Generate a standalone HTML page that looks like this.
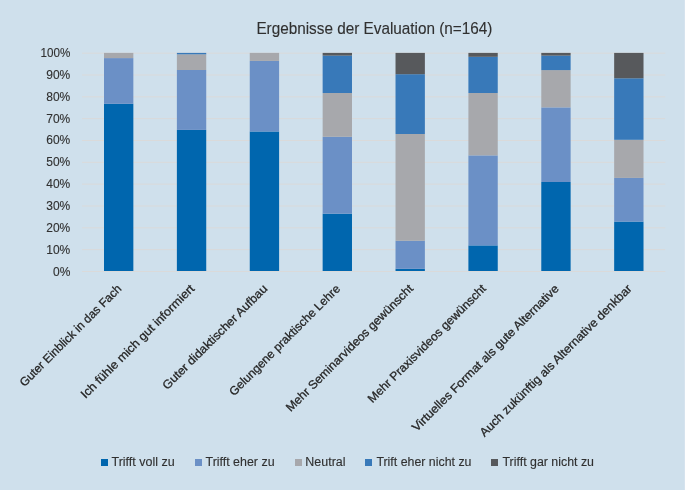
<!DOCTYPE html>
<html><head><meta charset="utf-8"><title>Ergebnisse der Evaluation</title>
<style>
html,body{margin:0;padding:0;}
body{width:685px;height:490px;overflow:hidden;background:#CFE0EC;font-family:"Liberation Sans",sans-serif;}
svg{display:block;font-family:"Liberation Sans",sans-serif;will-change:transform;}
text{stroke:#303030;stroke-width:0.12px;}
.xl{fill:#262626;stroke:#262626;stroke-width:0.28px;}
</style></head><body>
<svg width="685" height="490" viewBox="0 0 685 490">
<rect x="0" y="0" width="685" height="490" fill="#CFE0EC"/>
<rect x="684" y="0" width="1" height="490" fill="#D6E3EE"/>
<rect x="82" y="271.00" width="583.3" height="1" fill="#DADADA"/>
<rect x="82" y="249.16" width="583.3" height="1" fill="#DADADA"/>
<rect x="82" y="227.33" width="583.3" height="1" fill="#DADADA"/>
<rect x="82" y="205.50" width="583.3" height="1" fill="#DADADA"/>
<rect x="82" y="183.66" width="583.3" height="1" fill="#DADADA"/>
<rect x="82" y="161.82" width="583.3" height="1" fill="#DADADA"/>
<rect x="82" y="139.99" width="583.3" height="1" fill="#DADADA"/>
<rect x="82" y="118.16" width="583.3" height="1" fill="#DADADA"/>
<rect x="82" y="96.32" width="583.3" height="1" fill="#DADADA"/>
<rect x="82" y="74.49" width="583.3" height="1" fill="#DADADA"/>
<rect x="82" y="52.65" width="583.3" height="1" fill="#DADADA"/>
<rect x="104.00" y="103.80" width="29.35" height="167.20" fill="#0066AE"/>
<rect x="104.00" y="58.10" width="29.35" height="45.70" fill="#6B90C6"/>
<rect x="104.00" y="52.90" width="29.35" height="5.20" fill="#A7A8AC"/>
<rect x="176.88" y="129.90" width="29.35" height="141.10" fill="#0066AE"/>
<rect x="176.88" y="70.00" width="29.35" height="59.90" fill="#6B90C6"/>
<rect x="176.88" y="54.30" width="29.35" height="15.70" fill="#A7A8AC"/>
<rect x="176.88" y="52.90" width="29.35" height="1.40" fill="#3879B9"/>
<rect x="249.76" y="131.50" width="29.35" height="139.50" fill="#0066AE"/>
<rect x="249.76" y="60.90" width="29.35" height="70.60" fill="#6B90C6"/>
<rect x="249.76" y="52.90" width="29.35" height="8.00" fill="#A7A8AC"/>
<rect x="322.64" y="213.70" width="29.35" height="57.30" fill="#0066AE"/>
<rect x="322.64" y="136.80" width="29.35" height="76.90" fill="#6B90C6"/>
<rect x="322.64" y="93.00" width="29.35" height="43.80" fill="#A7A8AC"/>
<rect x="322.64" y="55.60" width="29.35" height="37.40" fill="#3879B9"/>
<rect x="322.64" y="52.90" width="29.35" height="2.70" fill="#57595C"/>
<rect x="395.52" y="268.80" width="29.35" height="2.20" fill="#0066AE"/>
<rect x="395.52" y="240.80" width="29.35" height="28.00" fill="#6B90C6"/>
<rect x="395.52" y="134.00" width="29.35" height="106.80" fill="#A7A8AC"/>
<rect x="395.52" y="74.20" width="29.35" height="59.80" fill="#3879B9"/>
<rect x="395.52" y="52.90" width="29.35" height="21.30" fill="#57595C"/>
<rect x="468.40" y="245.40" width="29.35" height="25.60" fill="#0066AE"/>
<rect x="468.40" y="155.40" width="29.35" height="90.00" fill="#6B90C6"/>
<rect x="468.40" y="93.00" width="29.35" height="62.40" fill="#A7A8AC"/>
<rect x="468.40" y="56.80" width="29.35" height="36.20" fill="#3879B9"/>
<rect x="468.40" y="52.90" width="29.35" height="3.90" fill="#57595C"/>
<rect x="541.28" y="182.00" width="29.35" height="89.00" fill="#0066AE"/>
<rect x="541.28" y="107.40" width="29.35" height="74.60" fill="#6B90C6"/>
<rect x="541.28" y="70.10" width="29.35" height="37.30" fill="#A7A8AC"/>
<rect x="541.28" y="55.60" width="29.35" height="14.50" fill="#3879B9"/>
<rect x="541.28" y="52.90" width="29.35" height="2.70" fill="#57595C"/>
<rect x="614.16" y="221.60" width="29.35" height="49.40" fill="#0066AE"/>
<rect x="614.16" y="177.90" width="29.35" height="43.70" fill="#6B90C6"/>
<rect x="614.16" y="139.80" width="29.35" height="38.10" fill="#A7A8AC"/>
<rect x="614.16" y="78.30" width="29.35" height="61.50" fill="#3879B9"/>
<rect x="614.16" y="52.90" width="29.35" height="25.40" fill="#57595C"/>
<text x="70.3" y="275.50" text-anchor="end" font-size="12.0" fill="#303030">0%</text>
<text x="70.3" y="253.66" text-anchor="end" font-size="12.0" fill="#303030">10%</text>
<text x="70.3" y="231.83" text-anchor="end" font-size="12.0" fill="#303030">20%</text>
<text x="70.3" y="210.00" text-anchor="end" font-size="12.0" fill="#303030">30%</text>
<text x="70.3" y="188.16" text-anchor="end" font-size="12.0" fill="#303030">40%</text>
<text x="70.3" y="166.32" text-anchor="end" font-size="12.0" fill="#303030">50%</text>
<text x="70.3" y="144.49" text-anchor="end" font-size="12.0" fill="#303030">60%</text>
<text x="70.3" y="122.66" text-anchor="end" font-size="12.0" fill="#303030">70%</text>
<text x="70.3" y="100.82" text-anchor="end" font-size="12.0" fill="#303030">80%</text>
<text x="70.3" y="78.99" text-anchor="end" font-size="12.0" fill="#303030">90%</text>
<text x="70.3" y="57.15" text-anchor="end" font-size="12.0" fill="#303030" textLength="29.8" lengthAdjust="spacingAndGlyphs">100%</text>
<text x="122.27" y="289.40" text-anchor="end" font-size="12.0" class="xl" textLength="138.4" lengthAdjust="spacingAndGlyphs" transform="rotate(-45 122.27 289.40)">Guter Einblick in das Fach</text>
<text x="195.16" y="289.40" text-anchor="end" font-size="12.0" class="xl" textLength="155.1" lengthAdjust="spacingAndGlyphs" transform="rotate(-45 195.16 289.40)">Ich fühle mich gut informiert</text>
<text x="268.04" y="289.40" text-anchor="end" font-size="12.0" class="xl" textLength="142.5" lengthAdjust="spacingAndGlyphs" transform="rotate(-45 268.04 289.40)">Guter didaktischer Aufbau</text>
<text x="340.92" y="289.40" text-anchor="end" font-size="12.0" class="xl" textLength="151.3" lengthAdjust="spacingAndGlyphs" transform="rotate(-45 340.92 289.40)">Gelungene praktische Lehre</text>
<text x="413.80" y="289.40" text-anchor="end" font-size="12.0" class="xl" textLength="173.9" lengthAdjust="spacingAndGlyphs" transform="rotate(-45 413.80 289.40)">Mehr Seminarvideos gewünscht</text>
<text x="486.68" y="289.40" text-anchor="end" font-size="12.0" class="xl" textLength="161.4" lengthAdjust="spacingAndGlyphs" transform="rotate(-45 486.68 289.40)">Mehr Praxisvideos gewünscht</text>
<text x="559.55" y="289.40" text-anchor="end" font-size="12.0" class="xl" textLength="201.8" lengthAdjust="spacingAndGlyphs" transform="rotate(-45 559.55 289.40)">Virtuelles Format als gute Alternative</text>
<text x="632.43" y="289.40" text-anchor="end" font-size="12.0" class="xl" textLength="209.1" lengthAdjust="spacingAndGlyphs" transform="rotate(-45 632.43 289.40)">Auch zukünftig als Alternative denkbar</text>
<text x="256.4" y="33.5" font-size="15.7" fill="#303030" textLength="236" lengthAdjust="spacingAndGlyphs">Ergebnisse der Evaluation (n=164)</text>
<rect x="101" y="459" width="7" height="7" fill="#0066AE"/>
<text x="111.5" y="466.3" font-size="12.0" fill="#303030" textLength="63.2" lengthAdjust="spacingAndGlyphs">Trifft voll zu</text>
<rect x="195" y="459" width="7" height="7" fill="#6B90C6"/>
<text x="205.5" y="466.3" font-size="12.0" fill="#303030" textLength="69.1" lengthAdjust="spacingAndGlyphs">Trifft eher zu</text>
<rect x="295" y="459" width="7" height="7" fill="#A7A8AC"/>
<text x="305.3" y="466.3" font-size="12.0" fill="#303030" textLength="40.2" lengthAdjust="spacingAndGlyphs">Neutral</text>
<rect x="365" y="459" width="7" height="7" fill="#3879B9"/>
<text x="376.4" y="466.3" font-size="12.0" fill="#303030" textLength="95.1" lengthAdjust="spacingAndGlyphs">Trift eher nicht zu</text>
<rect x="491" y="459" width="7" height="7" fill="#57595C"/>
<text x="502.5" y="466.3" font-size="12.0" fill="#303030" textLength="91.5" lengthAdjust="spacingAndGlyphs">Trifft gar nicht zu</text>
</svg>
</body></html>
